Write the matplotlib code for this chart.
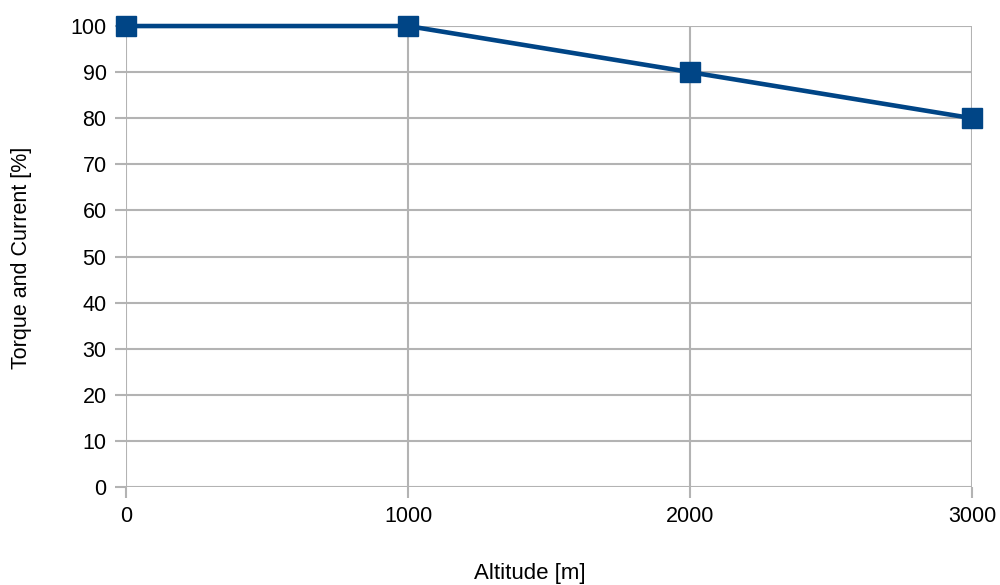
import matplotlib
matplotlib.use("Agg")
import matplotlib.pyplot as plt

altitude = [0, 1000, 2000, 3000]
torque = [100, 100, 90, 80]
y_ticks = list(range(0, 101, 10))

plt.rcParams['font.family'] = ['Liberation Sans', 'DejaVu Sans']

fig = plt.figure(figsize=(10, 5.85), dpi=100)
ax = fig.add_axes([0.126, 0.1675, 0.846, 0.788])

grid_col = '#b3b3b3'
ax.set_xlim(0, 3000)
ax.set_ylim(0, 100)
ax.set_xticks(altitude)
ax.set_yticks(y_ticks)
ax.grid(True, color=grid_col, linewidth=1.5)
ax.set_axisbelow(True)
for s in ax.spines.values():
    s.set_visible(False)
ax.tick_params(axis='both', color=grid_col, width=1.5, length=8, labelsize=15.5, pad=6)

ax.plot(altitude, torque, color='#004586', linewidth=3.3, marker='s', markersize=14,
        clip_on=False, zorder=5)

ax.set_xlabel('Altitude [m]', fontsize=16)
ax.set_ylabel('Torque and Current [%]', fontsize=15.5)
ax.xaxis.set_label_coords(0.4775, -0.165)
ax.yaxis.set_label_coords(-0.111, 0.497)

fig.savefig('out.png', dpi=100, facecolor='white')
